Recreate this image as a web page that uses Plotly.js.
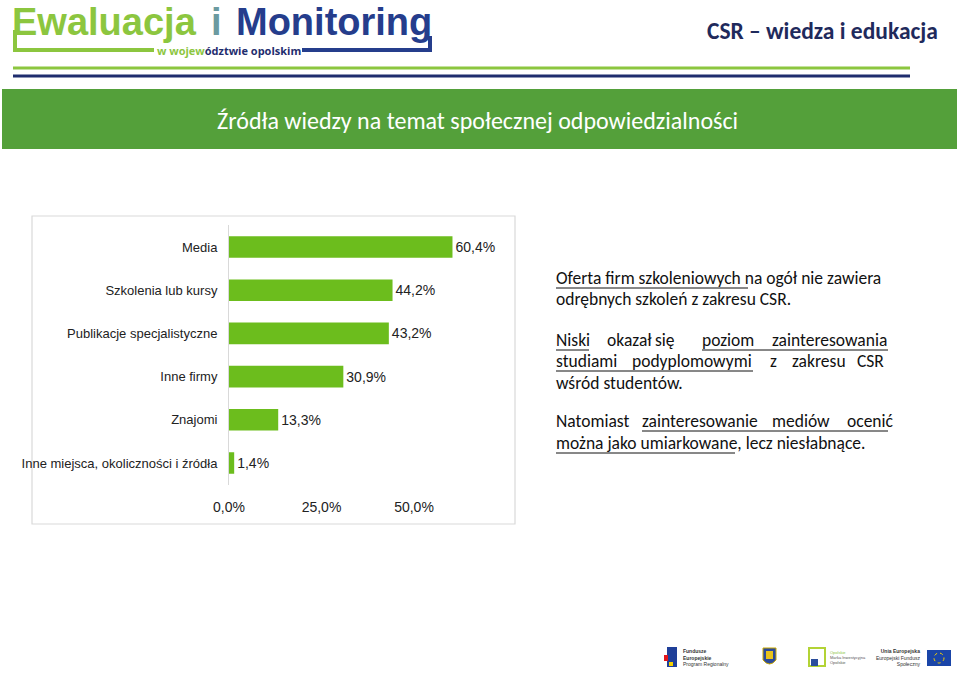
<!DOCTYPE html>
<html>
<head>
<meta charset="utf-8">
<script src="https://cdn.plot.ly/plotly-3.0.1.min.js"></script>
<style>html,body{margin:0;padding:0;background:#fff;}#chart{width:960px;height:674px;}</style>
</head>
<body>
<div id="chart"></div>
<script>
// ---- data ----
const categories = ["Media", "Szkolenia lub kursy", "Publikacje specjalistyczne", "Inne firmy", "Znajomi", "Inne miejsca, okoliczności i źródła"];
const values = [60.4, 44.2, 43.2, 30.9, 13.3, 1.4];
const tickValues = [0, 25, 50];
const tickLabels = ["0,0%", "25,0%", "50,0%"];
const slideTitle = "Źródła wiedzy na temat społecznej odpowiedzialności";
const headerRight = "CSR – wiedza i edukacja";

// ---- layout helpers (pixel -> paper) ----
const W = 960, H = 674;
const px = x => x / W;
const py = y => 1 - y / H;

const chartFont = '"Liberation Sans", Arial, sans-serif';
const body = 'Carlito, Calibri, Lato, sans-serif';

const trace = {
  type: 'bar',
  orientation: 'h',
  y: categories,
  x: values,
  width: 0.5,
  marker: {color: '#6cbd1d'},
  texttemplate: '%{x:.1f}%',
  textposition: 'outside',
  cliponaxis: false,
  textfont: {family: chartFont, size: 14, color: '#222'},
  hoverinfo: 'skip'
};

const shapes = [];
const annotations = [];

// chart frame
shapes.push({type: 'rect', xref: 'paper', yref: 'paper', x0: px(32), x1: px(515), y0: py(216), y1: py(524), line: {color: '#d9d9d9', width: 1.2}, fillcolor: 'rgba(0,0,0,0)', layer: 'below'});

// banner
shapes.push({type: 'rect', xref: 'paper', yref: 'paper', x0: px(2), x1: px(957), y0: py(89), y1: py(149), line: {width: 0}, fillcolor: '#54a03a', layer: 'below'});
annotations.push({text: slideTitle, xref: 'paper', yref: 'paper', x: px(477), y: py(120), xanchor: 'center', yanchor: 'middle', showarrow: false, font: {family: body, size: 24, color: '#ffffff'}});

// header lines
shapes.push({type: 'line', xref: 'paper', yref: 'paper', x0: px(13), x1: px(910), y0: py(68), y1: py(68), line: {color: '#8cc63f', width: 3}});
shapes.push({type: 'line', xref: 'paper', yref: 'paper', x0: px(13), x1: px(910), y0: py(76), y1: py(76), line: {color: '#1f2d6e', width: 3}});

// header right
annotations.push({text: '<b>' + headerRight + '</b>', xref: 'paper', yref: 'paper', x: px(940), y: py(31), xanchor: 'right', yanchor: 'middle', showarrow: false, font: {family: body, size: 23.5, color: '#1f2a5c'}});

// logo
const logoFont = '"Liberation Sans", Arial, sans-serif';
annotations.push({text: '<b>Ewaluacja</b>', xref: 'paper', yref: 'paper', x: px(11), y: py(22), xanchor: 'left', yanchor: 'middle', showarrow: false, borderpad: 0, font: {family: logoFont, size: 38, color: '#8cc63f'}});
annotations.push({text: '<b>i</b>', xref: 'paper', yref: 'paper', x: px(210), y: py(22), xanchor: 'left', yanchor: 'middle', showarrow: false, borderpad: 0, font: {family: logoFont, size: 38, color: '#6b9aa0'}});
annotations.push({text: '<b>Monitoring</b>', xref: 'paper', yref: 'paper', x: px(235), y: py(22), xanchor: 'left', yanchor: 'middle', showarrow: false, borderpad: 0, font: {family: logoFont, size: 38, color: '#253d8c'}});
annotations.push({text: '<b><span style="color:#8cc63f">w wojew</span>ództwie opolskim</b>', xref: 'paper', yref: 'paper', x: px(156), y: py(50), xanchor: 'left', yanchor: 'middle', showarrow: false, borderpad: 0, font: {family: '"Open Sans", sans-serif', size: 11, color: '#1f2d6e'}});
shapes.push({type: 'line', xref: 'paper', yref: 'paper', x0: px(15), x1: px(154), y0: py(50), y1: py(50), line: {color: '#8cc63f', width: 4}});
shapes.push({type: 'line', xref: 'paper', yref: 'paper', x0: px(15), x1: px(15), y0: py(30), y1: py(52), line: {color: '#8cc63f', width: 4}});
shapes.push({type: 'line', xref: 'paper', yref: 'paper', x0: px(302), x1: px(431), y0: py(50), y1: py(50), line: {color: '#253d8c', width: 4}});
shapes.push({type: 'line', xref: 'paper', yref: 'paper', x0: px(430), x1: px(430), y0: py(36), y1: py(52), line: {color: '#253d8c', width: 4}});

// right-hand text (words placed to reproduce justification)
const txtSize = 17.5;
function word(t, x, y) {
  annotations.push({text: t, xref: 'paper', yref: 'paper', x: px(x), y: py(y), xanchor: 'left', yanchor: 'middle', showarrow: false, borderpad: 0, font: {family: body, size: txtSize, color: '#111'}});
}
function under(x0, x1, y) {
  shapes.push({type: 'line', xref: 'paper', yref: 'paper', x0: px(x0), x1: px(x1), y0: py(y + 10), y1: py(y + 10), line: {color: '#111', width: 1}});
}
word('Oferta firm szkoleniowych na ogół nie zawiera', 555, 278); under(556, 748, 278);
word('odrębnych szkoleń z zakresu CSR.', 555, 299);
word('Niski', 555, 340); under(556, 589, 340);
word('okazał', 606, 340);
word('się', 654, 340);
word('poziom', 701, 340);
word('zainteresowania', 771, 340); under(702, 888, 340);
word('studiami', 555, 361);
word('podyplomowymi', 631, 361); under(556, 753, 361);
word('z', 769, 361);
word('zakresu', 791, 361);
word('CSR', 856, 361);
word('wśród studentów.', 555, 383);
word('Natomiast', 555, 421);
word('zainteresowanie', 641, 421);
word('mediów', 771, 421);
word('ocenić', 846, 421); under(642, 888, 421);
word('można jako umiarkowane, lecz niesłabnące.', 555, 443); under(556, 735, 443);

// footer logos (simplified)
shapes.push({type: 'rect', xref: 'paper', yref: 'paper', x0: px(667), x1: px(677), y0: py(647), y1: py(667), line: {width: 0}, fillcolor: '#1f3f99'});
shapes.push({type: 'rect', xref: 'paper', yref: 'paper', x0: px(664), x1: px(668), y0: py(655), y1: py(661), line: {width: 0}, fillcolor: '#e3161b'});
shapes.push({type: 'rect', xref: 'paper', yref: 'paper', x0: px(669), x1: px(673), y0: py(662), y1: py(666), line: {width: 0}, fillcolor: '#f5d100'});
annotations.push({text: '<b>Fundusze<br>Europejskie</b><br>Program Regionalny', xref: 'paper', yref: 'paper', x: px(681), y: py(657), xanchor: 'left', yanchor: 'middle', align: 'left', showarrow: false, font: {family: 'Liberation Sans, sans-serif', size: 5, color: '#333'}});
shapes.push({type: 'path', xref: 'paper', yref: 'paper', path: 'M' + px(763) + ',' + py(648) + ' L' + px(776) + ',' + py(648) + ' L' + px(776) + ',' + py(660) + ' Q' + px(769.5) + ',' + py(668) + ' ' + px(763) + ',' + py(660) + ' Z', line: {color: '#c9a800', width: 1}, fillcolor: '#2c4a9a'});
shapes.push({type: 'rect', xref: 'paper', yref: 'paper', x0: px(766), x1: px(773), y0: py(651), y1: py(659), line: {width: 0}, fillcolor: '#e8c31b'});
shapes.push({type: 'rect', xref: 'paper', yref: 'paper', x0: px(809), x1: px(825), y0: py(648), y1: py(666), line: {color: '#b3d335', width: 2}, fillcolor: 'rgba(0,0,0,0)'});
shapes.push({type: 'rect', xref: 'paper', yref: 'paper', x0: px(811), x1: px(818), y0: py(659), y1: py(666), line: {width: 0}, fillcolor: '#2a4d9b'});
annotations.push({text: '<span style="color:#8cc63f">Opolskie</span><br>Marka Inwestycyjna<br>Opolskie', xref: 'paper', yref: 'paper', x: px(828), y: py(657), xanchor: 'left', yanchor: 'middle', align: 'left', showarrow: false, font: {family: 'Liberation Sans, sans-serif', size: 4, color: '#555'}});
annotations.push({text: '<b>Unia Europejska</b><br>Europejski Fundusz<br>Społeczny', xref: 'paper', yref: 'paper', x: px(922), y: py(657), xanchor: 'right', yanchor: 'middle', align: 'right', showarrow: false, font: {family: 'Liberation Sans, sans-serif', size: 5, color: '#333'}});
shapes.push({type: 'rect', xref: 'paper', yref: 'paper', x0: px(927), x1: px(951), y0: py(650), y1: py(666), line: {width: 0}, fillcolor: '#1a45a8'});
shapes.push({type: 'circle', xref: 'paper', yref: 'paper', x0: px(934), x1: px(944), y0: py(653), y1: py(663), line: {color: '#f5d100', width: 1, dash: 'dot'}, fillcolor: 'rgba(0,0,0,0)'});

const layout = {
  width: W, height: H,
  margin: {l: 0, r: 0, t: 0, b: 0},
  paper_bgcolor: '#ffffff',
  plot_bgcolor: 'rgba(0,0,0,0)',
  separators: ', ',
  showlegend: false,
  xaxis: {
    domain: [px(229), px(506.5)],
    range: [0, 75],
    tickvals: tickValues,
    ticktext: tickLabels,
    showgrid: false,
    zeroline: false,
    showline: false,
    ticks: '',
    ticklabelstandoff: 12,
    tickfont: {family: chartFont, size: 14, color: '#222'},
    fixedrange: true
  },
  yaxis: {
    domain: [py(484.6), py(225.4)],
    type: 'category',
    autorange: 'reversed',
    showgrid: false,
    zeroline: false,
    showline: true,
    linecolor: '#d9d9d9',
    linewidth: 1,
    ticks: '',
    ticklabelstandoff: 8,
    tickfont: {family: chartFont, size: 13, color: '#222'},
    fixedrange: true
  },
  shapes: shapes,
  annotations: annotations
};

Plotly.newPlot('chart', [trace], layout, {displayModeBar: false, staticPlot: true});
</script>
</body>
</html>
